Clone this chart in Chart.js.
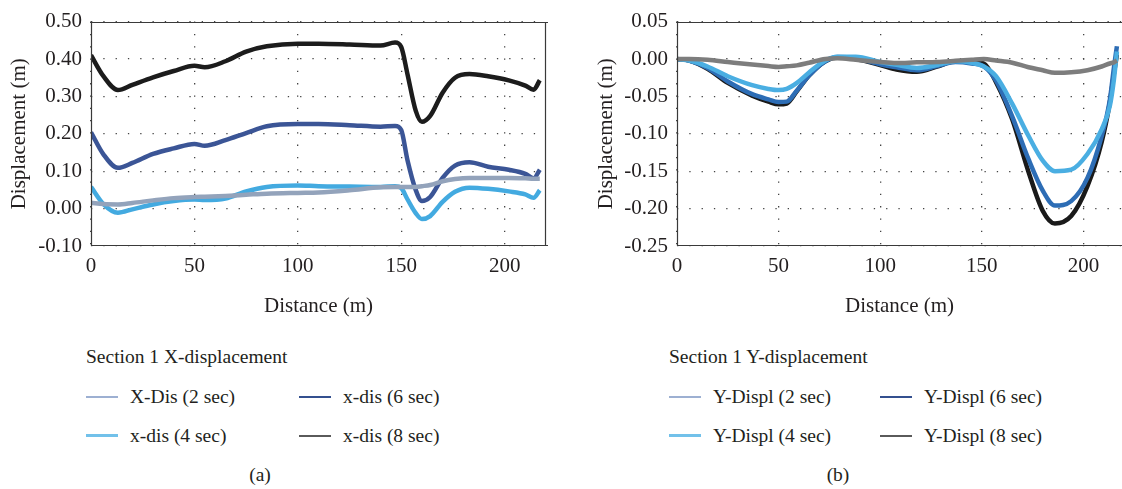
<!DOCTYPE html>
<html>
<head>
<meta charset="utf-8">
<script src="https://cdn.jsdelivr.net/npm/chart.js@4/dist/chart.umd.min.js"></script>
<style>
  body { margin: 0; background: #fff; width: 1122px; height: 489px; position: relative; overflow: hidden;
         font-family: 'Liberation Serif', serif; color: #231f20; }
  .pane { position: absolute; top: 0; }
  .txt { position: absolute; font-size: 19.5px; line-height: 1; white-space: nowrap; transform: translateY(-50%); }
  .swatch { position: absolute; }
</style>
</head>
<body>
<div class="pane" style="left:0"><canvas id="chartA" width="560" height="330"></canvas></div>
<div class="pane" style="left:560px"><canvas id="chartB" width="562" height="330"></canvas></div>
<div id="legends"></div>

<script>
// (a) X-displacement along section 1
var distA = [0, 6, 13, 20, 30, 40, 50, 55, 65, 75, 85, 100, 110, 125, 140, 147, 150, 153, 157, 160, 164, 170, 176, 183, 192, 202, 210, 214, 217];
var xDis2 = [0.016, 0.012, 0.011, 0.015, 0.022, 0.028, 0.031, 0.032, 0.034, 0.037, 0.040, 0.042, 0.043, 0.049, 0.057, 0.058, 0.058, 0.058, 0.058, 0.060, 0.063, 0.073, 0.079, 0.082, 0.082, 0.082, 0.081, 0.080, 0.080];
var xDis4 = [0.058, 0.012, -0.011, -0.002, 0.011, 0.020, 0.024, 0.023, 0.027, 0.046, 0.058, 0.062, 0.060, 0.059, 0.058, 0.060, 0.055, 0.025, -0.012, -0.028, -0.020, 0.018, 0.045, 0.056, 0.053, 0.046, 0.038, 0.029, 0.049];
var xDis6 = [0.204, 0.145, 0.109, 0.122, 0.146, 0.161, 0.173, 0.168, 0.183, 0.202, 0.220, 0.226, 0.226, 0.223, 0.219, 0.221, 0.210, 0.130, 0.050, 0.020, 0.031, 0.082, 0.115, 0.124, 0.112, 0.104, 0.093, 0.081, 0.104];
var xDis8 = [0.410, 0.354, 0.317, 0.331, 0.351, 0.368, 0.382, 0.378, 0.394, 0.420, 0.434, 0.441, 0.441, 0.439, 0.436, 0.444, 0.432, 0.360, 0.262, 0.232, 0.248, 0.310, 0.350, 0.360, 0.354, 0.343, 0.329, 0.318, 0.343];

// (b) Y-displacement along section 1
var distB = [0, 6, 15, 25, 37, 45, 50, 54, 59, 65, 73, 79, 88, 100, 108, 118, 128, 137, 145, 151, 157, 165, 173, 180, 186, 194, 202, 209, 213, 215, 216.5];
var yDis2 = [0, 0, -0.001, -0.004, -0.0075, -0.0095, -0.0106, -0.0098, -0.0085, -0.005, 0, 0.001, -0.001, -0.004, -0.0053, -0.0045, -0.004, -0.0025, -0.001, 0, -0.002, -0.005, -0.011, -0.015, -0.0185, -0.0178, -0.015, -0.010, -0.006, -0.0045, -0.002];
var yDis4 = [0, -0.002, -0.010, -0.023, -0.035, -0.040, -0.0416, -0.040, -0.032, -0.018, -0.002, 0.003, 0.003, -0.004, -0.0078, -0.012, -0.008, -0.003, -0.005, -0.010, -0.023, -0.060, -0.103, -0.136, -0.150, -0.148, -0.127, -0.094, -0.063, -0.028, 0.010];
var yDis6 = [0, -0.002, -0.012, -0.030, -0.047, -0.054, -0.0575, -0.057, -0.042, -0.022, -0.003, 0.0027, 0.001, -0.007, -0.011, -0.015, -0.0095, -0.004, -0.006, -0.010, -0.029, -0.077, -0.134, -0.176, -0.196, -0.190, -0.159, -0.103, -0.055, -0.012, 0.017];
var yDis8 = [0, -0.002, -0.013, -0.032, -0.049, -0.057, -0.0606, -0.0595, -0.043, -0.022, -0.003, 0.002, 0, -0.008, -0.014, -0.017, -0.010, -0.003, -0.004, -0.006, -0.031, -0.081, -0.151, -0.203, -0.220, -0.210, -0.170, -0.111, -0.058, -0.020, 0.006];

// tick labels
var ticksX = [0, 50, 100, 150, 200];
var ticksYA = [-0.1, 0, 0.1, 0.2, 0.3, 0.4, 0.5];
var ticksYB = [-0.25, -0.2, -0.15, -0.1, -0.05, 0, 0.05];

var labelsA = ['X-Dis (2 sec)', 'x-dis (4 sec)', 'x-dis (6 sec)', 'x-dis (8 sec)'];
var labelsB = ['Y-Displ (2 sec)', 'Y-Displ (4 sec)', 'Y-Displ (6 sec)', 'Y-Displ (8 sec)'];
var coresA = ['#93a3bb', '#43aae0', '#3b5596', '#1c1c1c'];
var coresB = ['#7d7d7d', '#4aaee2', '#2d6db5', '#1a1a1a'];
var coresLegenda = ['#9db0d2', '#72c1ea', '#34508f', '#5a5a5a'];

var fonte = { family: "'Liberation Serif', serif", size: 21 };

var montarSerie = function (xs, ys, label, cor) {
    return {
        label: label,
        data: xs.map(function (x, i) { return { x: x, y: ys[i] }; }),
        borderColor: cor,
        borderWidth: 4.5,
        pointRadius: 0,
        cubicInterpolationMode: 'monotone',
        fill: false
    };
};

var fixarTicks = function (valores) {
    return function (s) {
        s.ticks = valores.map(function (v) { return { value: v }; });
    };
};

var moldura = {
    id: 'moldura',
    afterDraw: function (chart, args, opts) {
        var a = chart.chartArea;
        var ctx = chart.ctx;
        var l = Math.round(a.left) + 0.5, r = Math.round(a.right) - 0.5;
        var t = Math.round(a.top) + 0.5, b = Math.round(a.bottom) - 0.5;
        ctx.save();
        ctx.strokeStyle = '#3a3a3a';
        ctx.lineWidth = 1.2;
        ctx.beginPath();
        if (opts.direita) {
            ctx.moveTo(r, t);
            ctx.lineTo(r, b);
        }
        ctx.moveTo(a.right + 2, t);
        ctx.lineTo(l, t);
        ctx.lineTo(l, b);
        ctx.lineTo(a.right + 2, b);
        ctx.stroke();
        ctx.restore();
    }
};

var grade = {
    color: '#444',
    lineWidth: 1.3,
    drawTicks: false,
    borderDash: [1.3, 11],
    borderDashOffset: 0
};

var criarGrafico = function (id, series, cfg) {
    return new Chart(document.getElementById(id), {
        type: 'line',
        data: { datasets: series },
        plugins: [moldura],
        options: {
            responsive: false,
            animation: false,
            layout: { padding: { left: cfg.padEsq, right: cfg.padDir, top: 20, bottom: 0 } },
            plugins: {
                legend: { display: false },
                tooltip: { enabled: false },
                moldura: { direita: cfg.direita }
            },
            scales: {
                x: {
                    type: 'linear',
                    min: 0,
                    max: cfg.xMax,
                    afterBuildTicks: fixarTicks(ticksX),
                    afterFit: function (s) { s.height = 84; },
                    grid: grade,
                    border: { display: false, dash: [1.3, 11] },
                    ticks: { autoSkip: false, padding: 8, color: '#231f20', font: fonte, maxRotation: 0 },
                    title: { display: true, text: 'Distance (m)', color: '#231f20', font: fonte, padding: { top: 0, bottom: 11 } }
                },
                y: {
                    min: cfg.yMin,
                    max: cfg.yMax,
                    afterBuildTicks: fixarTicks(cfg.ticksY),
                    afterFit: function (s) { s.width = cfg.larguraY; },
                    grid: grade,
                    border: { display: false, dash: [1.3, 11] },
                    ticks: {
                        autoSkip: false,
                        padding: 9,
                        color: '#231f20',
                        font: fonte,
                        callback: function (v) { return (Math.abs(v) < 1e-9 ? 0 : v).toFixed(2); }
                    },
                    title: { display: true, text: 'Displacement (m)', color: '#231f20', font: fonte, padding: { top: 7, bottom: 0 } }
                }
            }
        }
    });
};

criarGrafico('chartA', [
    montarSerie(distA, xDis2, labelsA[0], coresA[0]),
    montarSerie(distA, xDis4, labelsA[1], coresA[1]),
    montarSerie(distA, xDis6, labelsA[2], coresA[2]),
    montarSerie(distA, xDis8, labelsA[3], coresA[3])
], { xMax: 220, yMin: -0.1, yMax: 0.5, ticksY: ticksYA, larguraY: 91, padEsq: 0, padDir: 14, direita: true });

criarGrafico('chartB', [
    montarSerie(distB, yDis2, labelsB[0], coresB[0]),
    montarSerie(distB, yDis4, labelsB[1], coresB[1]),
    montarSerie(distB, yDis6, labelsB[2], coresB[2]),
    montarSerie(distB, yDis8, labelsB[3], coresB[3])
], { xMax: 219, yMin: -0.25, yMax: 0.05, ticksY: ticksYB, larguraY: 90, padEsq: 27, padDir: 0, direita: false });

// legendas em HTML, duas colunas: (2 sec, 6 sec) / (4 sec, 8 sec)
var espessuras = [1.5, 2.5, 1.8, 2];
var montarLegenda = function (x0, col2, titulo, labels, letra, xLetra) {
    var el = document.getElementById('legends');
    var html = '<div class="txt" style="left:' + x0 + 'px;top:357px">' + titulo + '</div>';
    var pos = [[x0, 397], [x0, 435.5], [col2, 397], [col2, 435.5]];
    for (var i = 0; i < 4; i++) {
        var p = pos[i];
        html += '<div class="swatch" style="left:' + p[0] + 'px;top:' + (p[1] - espessuras[i] / 2) + 'px;width:32px;height:' + espessuras[i] + 'px;background:' + coresLegenda[i] + '"></div>';
        html += '<div class="txt" style="left:' + (p[0] + 44) + 'px;top:' + p[1] + 'px">' + labels[i] + '</div>';
    }
    html += '<div class="txt" style="left:' + xLetra + 'px;top:475px;transform:translate(-50%,-50%)">' + letra + '</div>';
    el.insertAdjacentHTML('beforeend', html);
};

montarLegenda(86, 299, 'Section 1 X-displacement', labelsA, '(a)', 260);
montarLegenda(669, 880, 'Section 1 Y-displacement', labelsB, '(b)', 838);
</script>
</body>
</html>
